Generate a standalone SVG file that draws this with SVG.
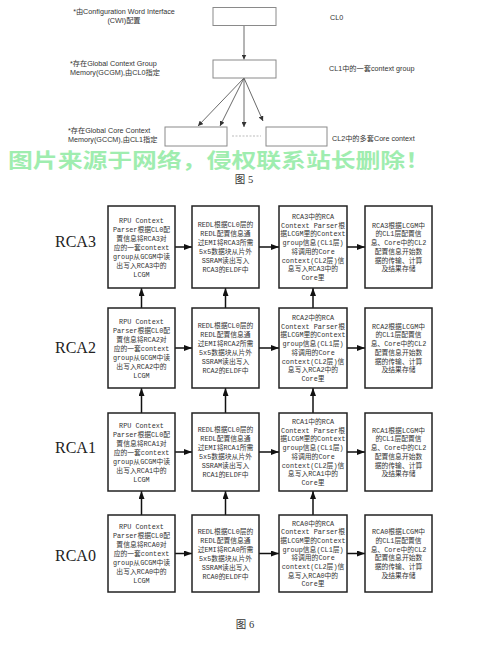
<svg xmlns="http://www.w3.org/2000/svg" width="500" height="648" viewBox="0 0 500 648">
<defs>
<style>
.bg{fill:#fff}
.b5{fill:#fff;stroke:#8a8a8a;stroke-width:1}
.t5{font-family:"Liberation Sans","Noto Sans CJK SC",sans-serif;font-size:7.2px;fill:#333}
.c5{stroke:#444;stroke-width:0.8;fill:none}
.b6{fill:#fff;stroke:#222;stroke-width:1.5}
.t6{font-family:"Liberation Mono","Noto Sans CJK SC",monospace;font-size:6.8px;fill:#333;text-anchor:middle}
.c6{stroke:#111;stroke-width:1.5;fill:none}
.lab{font-family:"Liberation Serif",serif;font-size:16px;fill:#222}
.cap{font-family:"Liberation Serif","Noto Sans CJK SC",serif;font-size:10.5px;fill:#333;text-anchor:middle}
.wm{font-family:"Noto Sans CJK SC",sans-serif;font-size:20px;font-weight:bold;fill:#7fe895;opacity:0.75}
</style>
<marker id="a5" markerWidth="5" markerHeight="5" refX="5" refY="2.5" orient="auto" markerUnits="userSpaceOnUse"><path d="M0,0 L5,2.5 L0,5 z" fill="#333"/></marker>
<marker id="a6" markerWidth="8" markerHeight="6" refX="8" refY="3" orient="auto" markerUnits="userSpaceOnUse"><path d="M0,0 L8,3 L0,6 z" fill="#111"/></marker>
</defs>
<rect class="bg" x="0" y="0" width="500" height="648"/>

<!-- Figure 5 -->
<g id="fig5-connectors">
<line class="c5" x1="244" y1="25.5" x2="244" y2="59.5" marker-end="url(#a5)"/>
<line class="c5" x1="244" y1="78" x2="198" y2="126" marker-end="url(#a5)"/>
<line class="c5" x1="244" y1="78" x2="220" y2="126" marker-end="url(#a5)"/>
<line class="c5" x1="244" y1="78" x2="244" y2="127" marker-end="url(#a5)"/>
<line class="c5" x1="244" y1="78" x2="263" y2="121" marker-end="url(#a5)"/>
<line x1="232" y1="136" x2="261" y2="136" stroke="#aaa" stroke-width="0.8" stroke-dasharray="2,1.5"/>
</g>
<g id="cl0">
<rect class="b5" x="213" y="7.5" width="63" height="18"/>
<text class="t5" x="124" y="14" text-anchor="middle">*由Configuration Word Interface</text>
<text class="t5" x="124" y="23" text-anchor="middle">(CWI)配置</text>
<text class="t5" x="330" y="20">CL0</text>
</g>
<g id="cl1">
<rect class="b5" x="213" y="60" width="63" height="18"/>
<text class="t5" x="70" y="66">*存在Global Context Group</text>
<text class="t5" x="70" y="75">Memory(GCGM),由CL0指定</text>
<text class="t5" x="329" y="71">CL1中的一套context group</text>
</g>
<g id="cl2">
<rect class="b5" x="165" y="127" width="62" height="19"/>
<rect class="b5" x="266" y="127" width="61" height="19"/>
<text class="t5" x="68" y="132.5">*存在Global Core Context</text>
<text class="t5" x="68" y="141.5">Memory(GCCM),由CL1指定</text>
<text class="t5" x="332" y="141">CL2中的多套Core context</text>
</g>
<text class="wm" x="8" y="167.5" textLength="422" lengthAdjust="spacingAndGlyphs">图片来源于网络，侵权联系站长删除！</text>
<text class="cap" x="244" y="183">图 5</text>

<!-- Figure 6 connectors -->
<g id="connectors">
<line class="c6" x1="175" y1="247" x2="192" y2="247" marker-end="url(#a6)"/>
<line class="c6" x1="259" y1="247" x2="279" y2="247" marker-end="url(#a6)"/>
<line class="c6" x1="347" y1="247" x2="365" y2="247" marker-end="url(#a6)"/>
<line class="c6" x1="175" y1="348" x2="192" y2="348" marker-end="url(#a6)"/>
<line class="c6" x1="259" y1="348" x2="279" y2="348" marker-end="url(#a6)"/>
<line class="c6" x1="347" y1="348" x2="365" y2="348" marker-end="url(#a6)"/>
<line class="c6" x1="175" y1="452" x2="192" y2="452" marker-end="url(#a6)"/>
<line class="c6" x1="259" y1="452" x2="279" y2="452" marker-end="url(#a6)"/>
<line class="c6" x1="347" y1="452" x2="365" y2="452" marker-end="url(#a6)"/>
<line class="c6" x1="175" y1="553.5" x2="192" y2="553.5" marker-end="url(#a6)"/>
<line class="c6" x1="259" y1="553.5" x2="279" y2="553.5" marker-end="url(#a6)"/>
<line class="c6" x1="347" y1="553.5" x2="365" y2="553.5" marker-end="url(#a6)"/>
<line class="c6" x1="141.5" y1="308" x2="141.5" y2="288" marker-end="url(#a6)"/>
<line class="c6" x1="225.5" y1="308" x2="225.5" y2="288" marker-end="url(#a6)"/>
<line class="c6" x1="313" y1="308" x2="313" y2="288" marker-end="url(#a6)"/>
<line class="c6" x1="141.5" y1="413" x2="141.5" y2="388" marker-end="url(#a6)"/>
<line class="c6" x1="225.5" y1="413" x2="225.5" y2="388" marker-end="url(#a6)"/>
<line class="c6" x1="313" y1="413" x2="313" y2="388" marker-end="url(#a6)"/>
<line class="c6" x1="141.5" y1="515" x2="141.5" y2="491" marker-end="url(#a6)"/>
<line class="c6" x1="225.5" y1="515" x2="225.5" y2="491" marker-end="url(#a6)"/>
<line class="c6" x1="313" y1="515" x2="313" y2="491" marker-end="url(#a6)"/>
</g>

<!-- Row labels -->
<g id="labels">
<text class="lab" x="55" y="247">RCA3</text>
<text class="lab" x="55" y="353">RCA2</text>
<text class="lab" x="55" y="453">RCA1</text>
<text class="lab" x="55" y="561">RCA0</text>
</g>

<!-- RCA3 row -->
<g id="rca3-c1"><rect class="b6" x="108" y="206" width="67" height="82"/>
<text class="t6" x="141.5" y="222.5"><tspan x="141.5">RPU Context</tspan><tspan x="141.5" dy="9">Parser根据CL0配</tspan><tspan x="141.5" dy="9">置信息将RCA3对</tspan><tspan x="141.5" dy="9">应的一套context</tspan><tspan x="141.5" dy="9">group从GCGM中读</tspan><tspan x="141.5" dy="9">出写入RCA3中的</tspan><tspan x="141.5" dy="9">LCGM</tspan></text></g>
<g id="rca3-c2"><rect class="b6" x="192" y="206" width="67" height="82"/>
<text class="t6" x="225.5" y="227"><tspan x="225.5">REDL根据CL0层的</tspan><tspan x="225.5" dy="9">REDL配置信息通</tspan><tspan x="225.5" dy="9">过EMI将RCA3所需</tspan><tspan x="225.5" dy="9">5x5数据块从片外</tspan><tspan x="225.5" dy="9">SSRAM读出写入</tspan><tspan x="225.5" dy="9">RCA3的ELDF中</tspan></text></g>
<g id="rca3-c3"><rect class="b6" x="279" y="206" width="68" height="82"/>
<text class="t6" x="313" y="219"><tspan x="313">RCA3中的RCA</tspan><tspan x="313" dy="8.7">Context Parser根</tspan><tspan x="313" dy="8.7">据LCGM里的Context</tspan><tspan x="313" dy="8.7">group信息(CL1层)</tspan><tspan x="313" dy="8.7">将调用的Core</tspan><tspan x="313" dy="8.7">context(CL2层)信</tspan><tspan x="313" dy="8.7">息写入RCA3中的</tspan><tspan x="313" dy="8.7">Core里</tspan></text></g>
<g id="rca3-c4"><rect class="b6" x="365" y="206" width="67" height="82"/>
<text class="t6" x="398.5" y="227.7"><tspan x="398.5">RCA3根据LCGM中</tspan><tspan x="398.5" dy="8.7">的CL1层配置信</tspan><tspan x="398.5" dy="8.7">息、Core中的CL2</tspan><tspan x="398.5" dy="8.7">配置信息开始数</tspan><tspan x="398.5" dy="8.7">据的传输、计算</tspan><tspan x="398.5" dy="8.7">及结果存储</tspan></text></g>

<!-- RCA2 row -->
<g id="rca2-c1"><rect class="b6" x="108" y="308" width="67" height="80"/>
<text class="t6" x="141.5" y="323.5"><tspan x="141.5">RPU Context</tspan><tspan x="141.5" dy="9">Parser根据CL0配</tspan><tspan x="141.5" dy="9">置信息将RCA2对</tspan><tspan x="141.5" dy="9">应的一套context</tspan><tspan x="141.5" dy="9">group从GCGM中读</tspan><tspan x="141.5" dy="9">出写入RCA2中的</tspan><tspan x="141.5" dy="9">LCGM</tspan></text></g>
<g id="rca2-c2"><rect class="b6" x="192" y="308" width="67" height="80"/>
<text class="t6" x="225.5" y="328"><tspan x="225.5">REDL根据CL0层的</tspan><tspan x="225.5" dy="9">REDL配置信息通</tspan><tspan x="225.5" dy="9">过EMI将RCA2所需</tspan><tspan x="225.5" dy="9">5x5数据块从片外</tspan><tspan x="225.5" dy="9">SSRAM读出写入</tspan><tspan x="225.5" dy="9">RCA2的ELDF中</tspan></text></g>
<g id="rca2-c3"><rect class="b6" x="279" y="308" width="68" height="80"/>
<text class="t6" x="313" y="320"><tspan x="313">RCA2中的RCA</tspan><tspan x="313" dy="8.7">Context Parser根</tspan><tspan x="313" dy="8.7">据LCGM里的Context</tspan><tspan x="313" dy="8.7">group信息(CL1层)</tspan><tspan x="313" dy="8.7">将调用的Core</tspan><tspan x="313" dy="8.7">context(CL2层)信</tspan><tspan x="313" dy="8.7">息写入RCA2中的</tspan><tspan x="313" dy="8.7">Core里</tspan></text></g>
<g id="rca2-c4"><rect class="b6" x="365" y="308" width="67" height="80"/>
<text class="t6" x="398.5" y="328.7"><tspan x="398.5">RCA2根据LCGM中</tspan><tspan x="398.5" dy="8.7">的CL1层配置信</tspan><tspan x="398.5" dy="8.7">息、Core中的CL2</tspan><tspan x="398.5" dy="8.7">配置信息开始数</tspan><tspan x="398.5" dy="8.7">据的传输、计算</tspan><tspan x="398.5" dy="8.7">及结果存储</tspan></text></g>

<!-- RCA1 row -->
<g id="rca1-c1"><rect class="b6" x="108" y="413" width="67" height="78"/>
<text class="t6" x="141.5" y="427.5"><tspan x="141.5">RPU Context</tspan><tspan x="141.5" dy="9">Parser根据CL0配</tspan><tspan x="141.5" dy="9">置信息将RCA1对</tspan><tspan x="141.5" dy="9">应的一套context</tspan><tspan x="141.5" dy="9">group从GCGM中读</tspan><tspan x="141.5" dy="9">出写入RCA1中的</tspan><tspan x="141.5" dy="9">LCGM</tspan></text></g>
<g id="rca1-c2"><rect class="b6" x="192" y="413" width="67" height="78"/>
<text class="t6" x="225.5" y="432"><tspan x="225.5">REDL根据CL0层的</tspan><tspan x="225.5" dy="9">REDL配置信息通</tspan><tspan x="225.5" dy="9">过EMI将RCA1所需</tspan><tspan x="225.5" dy="9">5x5数据块从片外</tspan><tspan x="225.5" dy="9">SSRAM读出写入</tspan><tspan x="225.5" dy="9">RCA1的ELDF中</tspan></text></g>
<g id="rca1-c3"><rect class="b6" x="279" y="413" width="68" height="78"/>
<text class="t6" x="313" y="424"><tspan x="313">RCA1中的RCA</tspan><tspan x="313" dy="8.7">Context Parser根</tspan><tspan x="313" dy="8.7">据LCGM里的Context</tspan><tspan x="313" dy="8.7">group信息(CL1层)</tspan><tspan x="313" dy="8.7">将调用的Core</tspan><tspan x="313" dy="8.7">context(CL2层)信</tspan><tspan x="313" dy="8.7">息写入RCA1中的</tspan><tspan x="313" dy="8.7">Core里</tspan></text></g>
<g id="rca1-c4"><rect class="b6" x="365" y="413" width="67" height="78"/>
<text class="t6" x="398.5" y="432.7"><tspan x="398.5">RCA1根据LCGM中</tspan><tspan x="398.5" dy="8.7">的CL1层配置信</tspan><tspan x="398.5" dy="8.7">息、Core中的CL2</tspan><tspan x="398.5" dy="8.7">配置信息开始数</tspan><tspan x="398.5" dy="8.7">据的传输、计算</tspan><tspan x="398.5" dy="8.7">及结果存储</tspan></text></g>

<!-- RCA0 row -->
<g id="rca0-c1"><rect class="b6" x="108" y="515" width="67" height="77"/>
<text class="t6" x="141.5" y="529"><tspan x="141.5">RPU Context</tspan><tspan x="141.5" dy="9">Parser根据CL0配</tspan><tspan x="141.5" dy="9">置信息将RCA0对</tspan><tspan x="141.5" dy="9">应的一套context</tspan><tspan x="141.5" dy="9">group从GCGM中读</tspan><tspan x="141.5" dy="9">出写入RCA0中的</tspan><tspan x="141.5" dy="9">LCGM</tspan></text></g>
<g id="rca0-c2"><rect class="b6" x="192" y="515" width="67" height="77"/>
<text class="t6" x="225.5" y="533.5"><tspan x="225.5">REDL根据CL0层的</tspan><tspan x="225.5" dy="9">REDL配置信息通</tspan><tspan x="225.5" dy="9">过EMI将RCA0所需</tspan><tspan x="225.5" dy="9">5x5数据块从片外</tspan><tspan x="225.5" dy="9">SSRAM读出写入</tspan><tspan x="225.5" dy="9">RCA0的ELDF中</tspan></text></g>
<g id="rca0-c3"><rect class="b6" x="279" y="515" width="68" height="77"/>
<text class="t6" x="313" y="525.5"><tspan x="313">RCA0中的RCA</tspan><tspan x="313" dy="8.7">Context Parser根</tspan><tspan x="313" dy="8.7">据LCGM里的Context</tspan><tspan x="313" dy="8.7">group信息(CL1层)</tspan><tspan x="313" dy="8.7">将调用的Core</tspan><tspan x="313" dy="8.7">context(CL2层)信</tspan><tspan x="313" dy="8.7">息写入RCA0中的</tspan><tspan x="313" dy="8.7">Core里</tspan></text></g>
<g id="rca0-c4"><rect class="b6" x="365" y="515" width="67" height="77"/>
<text class="t6" x="398.5" y="534.2"><tspan x="398.5">RCA0根据LCGM中</tspan><tspan x="398.5" dy="8.7">的CL1层配置信</tspan><tspan x="398.5" dy="8.7">息、Core中的CL2</tspan><tspan x="398.5" dy="8.7">配置信息开始数</tspan><tspan x="398.5" dy="8.7">据的传输、计算</tspan><tspan x="398.5" dy="8.7">及结果存储</tspan></text></g>

<text class="cap" x="245" y="628">图 6</text>
</svg>
